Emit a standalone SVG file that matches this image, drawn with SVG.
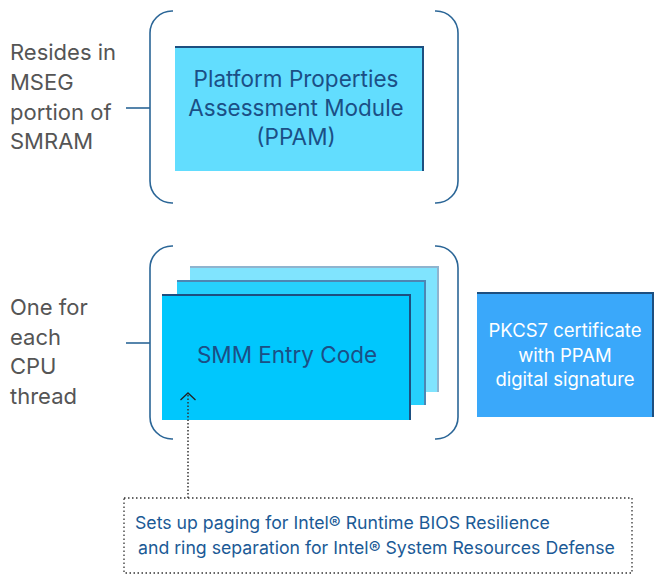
<svg xmlns="http://www.w3.org/2000/svg" width="666" height="575" viewBox="0 0 666 575">
<style>
.br{fill:none;stroke:#2b6697;stroke-width:1.6}
.lbl{font-family:Inter,"Noto Sans",sans-serif;font-size:22px;fill:#555555}
.nt{font-family:Inter,"Noto Sans",sans-serif;font-size:22.5px;fill:#1b4f86;text-anchor:middle}
.wt{font-family:Inter,"Noto Sans",sans-serif;font-size:18.5px;fill:#ffffff;text-anchor:middle}
.bt{font-family:Inter,"Noto Sans",sans-serif;font-size:17.7px;fill:#1b5a96}
.edge{fill:none;stroke:#1d4f80;stroke-width:2}
</style>
<defs>
<marker id="ah" viewBox="0 0 9 16" refX="8" refY="8" markerWidth="9" markerHeight="16" markerUnits="userSpaceOnUse" orient="auto">
<path d="M1,0.5 L8,8 L1,15.5" fill="none" stroke="#222" stroke-width="1.3"/>
</marker>
</defs>
<g id="brackets">
<path class="br" d="M173,11 H172 A22,22 0 0 0 150,33 V181 A22,22 0 0 0 172,203 H173"/>
<path class="br" d="M435,11 H436 A22,22 0 0 1 458,33 V181 A22,22 0 0 1 436,203 H435"/>
<path class="br" d="M126,108 H150"/>
<path class="br" d="M173,246 H172 A22,22 0 0 0 150,268 V417 A22,22 0 0 0 172,439 H173"/>
<path class="br" d="M435,246 H436 A22,22 0 0 1 458,268 V417 A22,22 0 0 1 436,439 H435"/>
<path class="br" d="M126,343 H150"/>
</g>
<g id="label-mseg">
<text class="lbl" x="10" y="60">Resides in</text>
<text class="lbl" x="10" y="90">MSEG</text>
<text class="lbl" x="10" y="120">portion of</text>
<text class="lbl" x="10" y="149">SMRAM</text>
</g>
<g id="label-cpu">
<text class="lbl" x="10" y="315">One for</text>
<text class="lbl" x="10" y="345">each</text>
<text class="lbl" x="10" y="374">CPU</text>
<text class="lbl" x="10" y="404">thread</text>
</g>
<g id="ppam">
<rect x="175" y="47" width="248" height="124" fill="#62ddfe"/>
<path class="edge" d="M175,47 H423 V171"/>
<text class="nt" x="296" y="87">Platform Properties</text>
<text class="nt" x="296" y="116">Assessment Module</text>
<text class="nt" x="296" y="145">(PPAM)</text>
</g>
<g id="smm-stack">
<rect x="190" y="267" width="248" height="125" fill="#80e4fe"/>
<path d="M190,267 H438 V392" fill="none" stroke="#8fb4cf" stroke-width="2"/>
<rect x="177" y="281" width="248" height="124" fill="#26d0fd"/>
<path d="M177,281 H425 V405" fill="none" stroke="#4d86b3" stroke-width="2"/>
</g>
<g id="smm">
<rect x="162" y="295" width="248" height="125" fill="#00c7fd"/>
<path class="edge" d="M162,295 H410 V420"/>
<text class="nt" x="287" y="363">SMM Entry Code</text>
</g>
<g id="pkcs7">
<rect x="477" y="293" width="176" height="124" fill="#3aa8fa"/>
<path class="edge" d="M477,293 H653 V417"/>
<text class="wt" x="565" y="337">PKCS7 certificate</text>
<text class="wt" x="565" y="362">with PPAM</text>
<text class="wt" x="565" y="386">digital signature</text>
</g>
<g id="note">
<rect x="124" y="498" width="508" height="75" fill="#ffffff" stroke="#333" stroke-width="1.3" stroke-dasharray="1.5,2.5"/>
<text class="bt" x="135" y="529">Sets up paging for Intel® Runtime BIOS Resilience</text>
<text class="bt" x="138" y="554">and ring separation for Intel® System Resources Defense</text>
</g>
<g id="connectors">
<path d="M188,498 V393" fill="none" stroke="#333" stroke-width="1.5" stroke-dasharray="1.5,2" marker-end="url(#ah)"/>
</g>
</svg>
